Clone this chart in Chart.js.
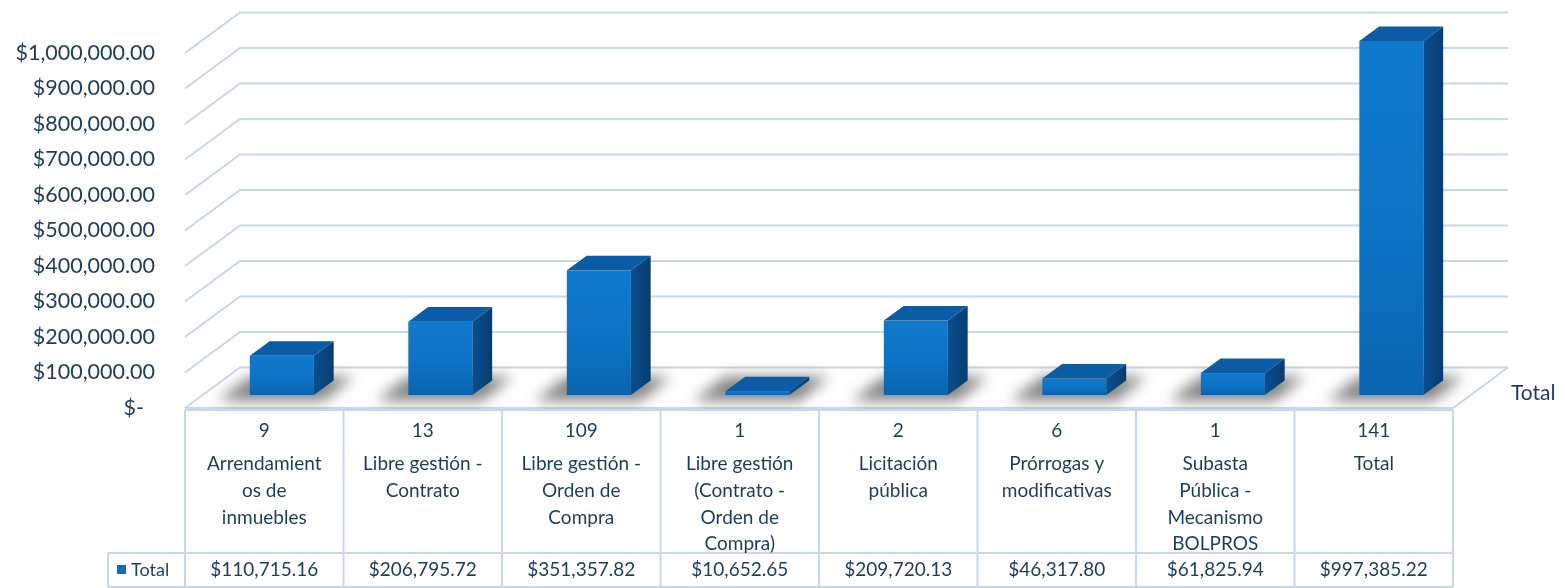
<!DOCTYPE html>
<html>
<head>
<meta charset="utf-8">
<script src="https://cdn.jsdelivr.net/npm/chart.js@4/dist/chart.umd.min.js"></script>
<style>
  html, body { margin: 0; padding: 0; background: #ffffff; }
  #wrap { width: 1565px; height: 588px; }
</style>
</head>
<body>
<div id="wrap"><canvas id="c" width="1565" height="588"></canvas></div>
<script>
// ---- DATA ----
const categoryLines = [
  ['Arrendamient', 'os de', 'inmuebles'],
  ['Libre gestión -', 'Contrato'],
  ['Libre gestión -', 'Orden de', 'Compra'],
  ['Libre gestión', '(Contrato -', 'Orden de', 'Compra)'],
  ['Licitación', 'pública'],
  ['Prórrogas y', 'modificativas'],
  ['Subasta', 'Pública -', 'Mecanismo', 'BOLPROS'],
  ['Total']
];
const counts = [9, 13, 109, 1, 2, 6, 1, 141];
const totals = [110715.16, 206795.72, 351357.82, 10652.65, 209720.13, 46317.80, 61825.94, 997385.22];
const seriesName = 'Total';
const yMin = 0, yMax = 1000000, yStep = 100000;

// ---- STYLE ----
const FONT = 'Lato, "Open Sans", sans-serif';
const TEXT = '#1d3b5f';
const GRID = '#c9d7ea';
const DEPTH_DX = 55, DEPTH_DY = -40.5;   // wall depth offset
const BAR_FRONT = 0.32, BAR_DEPTH = 0.36, BAR_W = 0.404;

function money(v) {
  if (v === 0) return '$-  ';
  return '$' + v.toLocaleString('en-US', {minimumFractionDigits: 2, maximumFractionDigits: 2});
}

const threeD = {
  id: 'threeD',
  beforeDatasetsDraw(chart) {
    const ctx = chart.ctx, y = chart.scales.y, a = chart.chartArea;
    ctx.save();
    ctx.strokeStyle = GRID;
    ctx.lineWidth = 2;
    for (let v = yMin; v <= yMax; v += yStep) {
      const py = y.getPixelForValue(v);
      ctx.beginPath();
      ctx.moveTo(a.left, py);
      ctx.lineTo(a.left + DEPTH_DX, py + DEPTH_DY);
      ctx.lineTo(a.right + DEPTH_DX, py + DEPTH_DY);
      ctx.stroke();
    }
    const p0 = y.getPixelForValue(0);
    ctx.beginPath();
    ctx.moveTo(a.left, p0);
    ctx.lineTo(a.right, p0);
    ctx.lineTo(a.right + DEPTH_DX, p0 + DEPTH_DY);
    ctx.stroke();
    ctx.restore();
  },
  afterDatasetsDraw(chart) {
    const ctx = chart.ctx, ys = chart.scales.y, xs = chart.scales.x;
    const colW = xs.getPixelForValue(1) - xs.getPixelForValue(0);
    const w = colW * BAR_W;
    const fdx = DEPTH_DX * BAR_FRONT, fdy = DEPTH_DY * BAR_FRONT;
    const ddx = DEPTH_DX * BAR_DEPTH, ddy = DEPTH_DY * BAR_DEPTH;
    const meta = chart.getDatasetMeta(0);
    meta.data.forEach((el, i) => {
      const v = chart.data.datasets[0].data[i];
      const cx = xs.getPixelForValue(i) + fdx;
      const xl = cx - w / 2, xr = cx + w / 2;
      const yb = ys.getPixelForValue(0) + fdy;
      const yt = ys.getPixelForValue(v) + fdy;
      // shadow on floor
      ctx.save();
      ctx.filter = 'blur(7px)';
      ctx.fillStyle = 'rgba(50,50,50,0.6)';
      ctx.beginPath();
      ctx.moveTo(xl - 32, yb + 6);
      ctx.lineTo(xr + 10, yb + 6);
      ctx.lineTo(xr + ddx + 20, yb + ddy - 4);
      ctx.lineTo(xl + ddx - 20, yb + ddy - 4);
      ctx.closePath();
      ctx.fill();
      ctx.restore();
      // front face
      ctx.save();
      let g = ctx.createLinearGradient(0, yt, 0, yb);
      g.addColorStop(0, '#1079cb');
      g.addColorStop(0.5, '#0d74c6');
      g.addColorStop(1, '#0a64b0');
      ctx.fillStyle = g;
      ctx.fillRect(xl, yt, w, yb - yt);
      // side face
      g = ctx.createLinearGradient(xr, 0, xr + ddx, 0);
      g.addColorStop(0, '#0a4f8f');
      g.addColorStop(1, '#073d70');
      ctx.fillStyle = g;
      ctx.beginPath();
      ctx.moveTo(xr, yt);
      ctx.lineTo(xr + ddx, yt + ddy);
      ctx.lineTo(xr + ddx, yb + ddy);
      ctx.lineTo(xr, yb);
      ctx.closePath();
      ctx.fill();
      // top face
      ctx.fillStyle = '#0b5ca4';
      ctx.beginPath();
      ctx.moveTo(xl, yt);
      ctx.lineTo(xl + ddx, yt + ddy);
      ctx.lineTo(xr + ddx, yt + ddy);
      ctx.lineTo(xr, yt);
      ctx.closePath();
      ctx.fill();
      ctx.restore();
    });
  },
  afterDraw(chart) {
    const ctx = chart.ctx, xs = chart.scales.x, ys = chart.scales.y, a = chart.chartArea;
    const colW = xs.getPixelForValue(1) - xs.getPixelForValue(0);
    const top = a.bottom + 2, sep = 553, bot = 587;
    ctx.save();
    ctx.strokeStyle = GRID;
    ctx.lineWidth = 2;
    ctx.beginPath();
    ctx.moveTo(a.left, top); ctx.lineTo(a.right, top);
    ctx.moveTo(108, sep); ctx.lineTo(a.right, sep);
    ctx.moveTo(108, bot); ctx.lineTo(a.right, bot);
    ctx.moveTo(108, sep); ctx.lineTo(108, bot);
    for (let i = 0; i <= categoryLines.length; i++) {
      const px = a.left + i * colW;
      ctx.moveTo(px, top); ctx.lineTo(px, bot);
    }
    ctx.stroke();
    ctx.fillStyle = TEXT;
    ctx.textAlign = 'center';
    ctx.textBaseline = 'middle';
    ctx.font = '19px ' + FONT;
    categoryLines.forEach((lines, i) => {
      const cx = xs.getPixelForValue(i);
      ctx.fillText(String(counts[i]), cx, 431);
      lines.forEach((t, k) => ctx.fillText(t, cx, 464 + k * 26.7));
      ctx.fillText(money(totals[i]), cx, 570);
    });
    // legend key in table
    ctx.fillStyle = '#0a6cc0';
    ctx.fillRect(117, 565, 9, 9);
    ctx.fillStyle = TEXT;
    ctx.textAlign = 'left';
    ctx.font = '18px ' + FONT;
    ctx.fillText(seriesName, 131, 570);
    // depth axis label
    ctx.font = '21px ' + FONT;
    ctx.fillText(seriesName, a.right + DEPTH_DX + 3, ys.getPixelForValue(0) - 15);
    ctx.restore();
  }
};

new Chart(document.getElementById('c'), {
  type: 'bar',
  data: {
    labels: categoryLines.map(l => l.join(' ')),
    datasets: [{
      label: seriesName,
      data: totals,
      backgroundColor: 'rgba(0,0,0,0)',
      borderWidth: 0
    }]
  },
  options: {
    responsive: false,
    animation: false,
    devicePixelRatio: 1,
    layout: { padding: { top: 53, right: 112, left: 0, bottom: 0 } },
    plugins: { legend: { display: false }, tooltip: { enabled: false } },
    scales: {
      y: {
        min: yMin, max: yMax,
        ticks: {
          stepSize: yStep,
          color: TEXT,
          font: { family: FONT, size: 21.5 },
          padding: 30,
          callback: v => money(v)
        },
        grid: { display: false, drawTicks: false },
        border: { display: false },
        afterFit(s) { s.width = 185; }
      },
      x: {
        ticks: { display: false },
        grid: { display: false, drawTicks: false },
        border: { display: false },
        afterFit(s) { s.height = 180; }
      }
    }
  },
  plugins: [threeD]
});
</script>
</body>
</html>
